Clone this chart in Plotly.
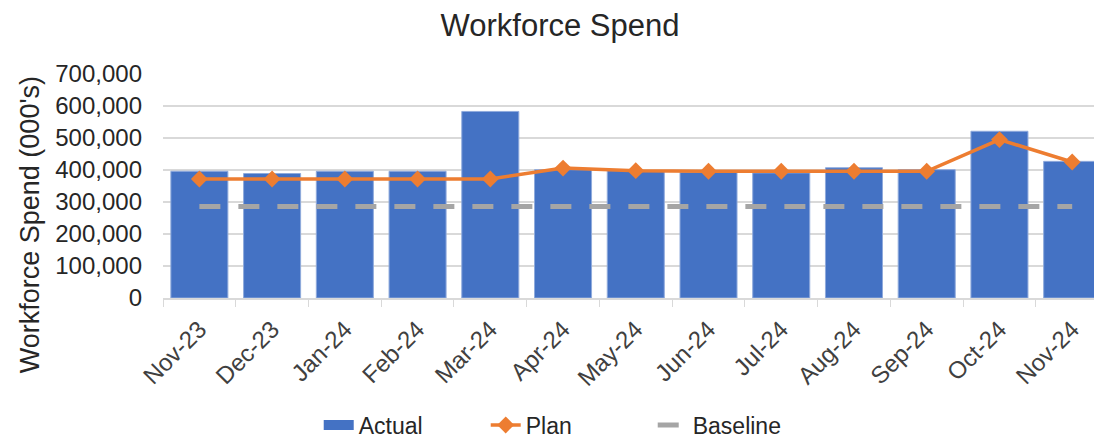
import plotly.graph_objects as go

months = ["Nov-23", "Dec-23", "Jan-24", "Feb-24", "Mar-24", "Apr-24", "May-24",
          "Jun-24", "Jul-24", "Aug-24", "Sep-24", "Oct-24", "Nov-24"]
actual = [396000, 389000, 396000, 396000, 583000, 401000, 398000,
          393000, 391000, 407000, 401000, 521000, 427000]
plan = [372000, 372000, 372000, 372000, 372000, 406000, 398000,
        396000, 396000, 396000, 396000, 495000, 425000]
baseline = [286000] * 13
y_ticks = [0, 100000, 200000, 300000, 400000, 500000, 600000, 700000]

FONT = "Liberation Sans, Arial, sans-serif"
BLUE = "#4472C4"

# The page body has an 8px default margin, so the figure is sized to fit the window.
W, H = 1094, 431

fig = go.Figure()
fig.add_trace(go.Bar(
    x=months, y=actual, name="Actual", showlegend=False, legendgroup="a",
    marker=dict(color=BLUE, line=dict(color="#8FAADC", width=1)),
))
# legend swatch for the bars (wide rectangle like the reference)
fig.add_trace(go.Scatter(
    x=[months[0]], y=[None], name="Actual", mode="lines", legendgroup="a",
    line=dict(color=BLUE, width=15),
))
fig.add_trace(go.Scatter(
    x=months, y=plan, name="Plan", mode="lines+markers",
    line=dict(color="#ED7D31", width=3.5),
    marker=dict(symbol="diamond", size=13, color="#ED7D31"),
))
fig.add_trace(go.Scatter(
    x=months, y=baseline, name="Baseline", mode="lines",
    line=dict(color="#A5A5A5", width=5, dash="21px,18px"),
))

fig.add_annotation(
    text="Workforce Spend (000's)", textangle=-90,
    xref="paper", yref="paper", x=-0.1416, y=0.325,
    xanchor="center", yanchor="middle", showarrow=False,
    font=dict(size=27, color="#262626"),
)

fig.update_layout(
    width=W, height=H,
    margin=dict(l=155, r=0, t=66, b=141),
    paper_bgcolor="white", plot_bgcolor="white",
    font=dict(family=FONT, color="#262626", size=22),
    title=dict(text="Workforce Spend", x=0.5046, xref="container", xanchor="center",
               y=0.96, yref="container", yanchor="middle",
               font=dict(size=31, color="#262626")),
    bargap=0.216,
    showlegend=True,
    legend=dict(orientation="h", xref="container", yref="container",
                x=0.513, xanchor="center", y=0.0325, yanchor="middle",
                font=dict(size=23), entrywidth=122, traceorder="normal",
                tracegroupgap=0),
    xaxis=dict(range=[-0.5, 12.41], tickangle=-45, showgrid=False, automargin=False,
               showline=True, linecolor="#D9D9D9", linewidth=1.5,
               ticks="outside", tickson="boundaries", ticklen=7,
               ticklabelstandoff=6,
               tickcolor="#D9D9D9", tickfont=dict(size=24, color="#404040")),
    yaxis=dict(range=[0, 700000], tickvals=y_ticks, tickformat=",", automargin=False,
               showgrid=True, gridcolor="#D9D9D9", gridwidth=1.5,
               zeroline=False, ticks="", ticklabelstandoff=20,
               tickfont=dict(size=24, color="#262626")),
)

fig.write_html("out.html")
